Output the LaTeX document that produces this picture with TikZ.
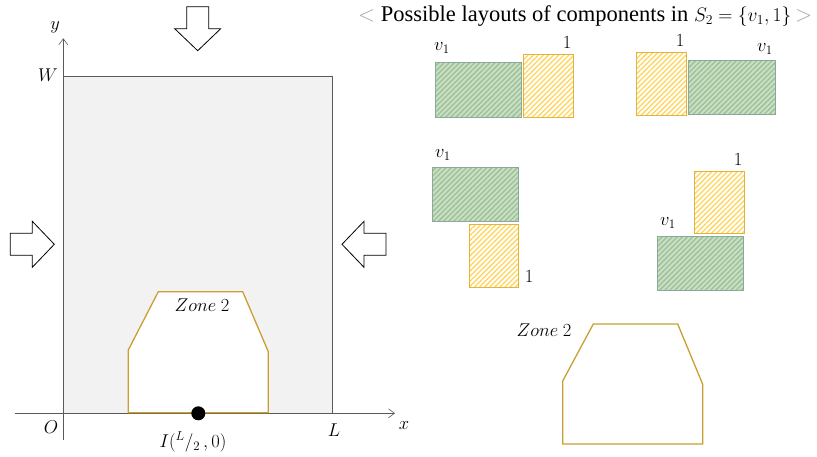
\RequirePackage{fix-cm}
\documentclass[tikz,border=0pt]{standalone}
\usepackage{fontspec}
\setmainfont{Liberation Serif}
\usepackage{tikz}
\usetikzlibrary{arrows.meta,patterns.meta}
\definecolor{frameGray}{HTML}{595959}
\definecolor{plateGray}{HTML}{F2F2F2}
\definecolor{zoneGold}{HTML}{C9A030}
\definecolor{compGreen}{HTML}{C8DFC3}
\definecolor{compGreenDk}{HTML}{9DBF97}
\definecolor{compGreenLn}{HTML}{8AA99A}
\definecolor{compYellow}{HTML}{FFD55C}
\definecolor{compYellowLn}{HTML}{E3B43C}
\newcommand{\lbl}[1]{\fontsize{18.5}{21}\selectfont$#1$}

\begin{document}
\begin{tikzpicture}[
  x=1pt, y=-1pt,
  axis/.style={draw=frameGray, line width=0.6pt, -{Straight Barb[length=6pt,width=9pt]}},
  zone/.style={draw=zoneGold, line width=1.3pt, fill=white},
  greencomp/.style={draw=compGreenLn, line width=0.9pt, preaction={fill=compGreen},
                    pattern={Lines[angle=45,distance=3.6pt,line width=1.3pt]}, pattern color=compGreenDk},
  yellowcomp/.style={draw=compYellowLn, line width=0.9pt, preaction={fill=white},
                    pattern={Lines[angle=45,distance=3.6pt,line width=1.3pt]}, pattern color=compYellow},
  bigarrow/.pic={\draw[fill=white, line width=0.8pt, line join=miter]
      (-22,-11) -- (0,-11) -- (0,-23) -- (22,0) -- (0,23) -- (0,11) -- (-22,11) -- cycle;}
]
  \useasboundingbox (0,0) rectangle (817,456);

  % plate and axes
  \draw[draw=frameGray, fill=plateGray, line width=0.6pt] (63.3,76.3) rectangle (332.3,413.3);
  \draw[axis] (63.3,440) -- (63.3,38.3);
  \draw[axis] (15,413.3) -- (395,413.3);
  \node (ylab) at (55,27) {\lbl{y}};
  \node (xlab) at (404,426) {\lbl{x}};
  \node (wlab) at (48,75) {\lbl{W}};
  \node (olab) at (51,427) {\lbl{O}};
  \node (llab) at (334,430) {\lbl{L}};

  % loads
  \pic[rotate=-90] at (197.7,28.7) {bigarrow};
  \pic at (32.3,244.3) {bigarrow};
  \pic[rotate=180] at (364,244.3) {bigarrow};

  % zone 2 on the plate
  \draw[zone] (128.3,412.7) -- (128.3,350) -- (158.3,291.7) -- (242.7,291.7)
              -- (268.3,351.7) -- (268.3,412.7) -- cycle;
  \node (zlab) at (202,305) {\lbl{Zone~2}};
  \fill (198.3,413.3) circle (7);
  \node (ilab) at (193,442) {\lbl{I({}^{L}/_{2}\,,0)}};

  % title
  \node[anchor=west, inner sep=0pt] (title) at (358,16) {\fontsize{22.5}{26}\selectfont\textcolor{gray!70}{$<$}
      Possible layouts of components in {\fontsize{19.5}{22}\selectfont$S_2=\{v_1,1\}$}\,\textcolor{gray!70}{$>$}};

  % layout 1
  \path[greencomp] (435,62.7) rectangle (521.7,117);
  \path[yellowcomp] (523.3,54.3) rectangle (573.3,117);
  \node (va) at (442,48) {\lbl{v_1}};
  \node (oa) at (567,43) {\lbl{1}};

  % layout 2
  \path[yellowcomp] (636.7,52.3) rectangle (686.7,115);
  \path[greencomp] (688.7,60) rectangle (775.3,114.3);
  \node (ob) at (680,41) {\lbl{1}};
  \node (vb) at (765,49) {\lbl{v_1}};

  % layout 3
  \path[greencomp] (432.7,167.3) rectangle (518.7,221.3);
  \path[yellowcomp] (469,224.3) rectangle (518.7,287);
  \node (vc) at (443,155) {\lbl{v_1}};
  \node (oc) at (529,277) {\lbl{1}};

  % layout 4
  \path[yellowcomp] (694.3,171) rectangle (744.3,233.3);
  \path[greencomp] (657.3,236.3) rectangle (743.3,290.7);
  \node (od) at (738,160) {\lbl{1}};
  \node (vd) at (668,223) {\lbl{v_1}};

  % zone 2 alone
  \draw[zone] (562.7,444) -- (562.7,381) -- (593.3,324) -- (677.7,324)
              -- (702.7,384.3) -- (702.7,444) -- cycle;
  \node (zlab2) at (544,330) {\lbl{Zone~2}};
\end{tikzpicture}
\end{document}
